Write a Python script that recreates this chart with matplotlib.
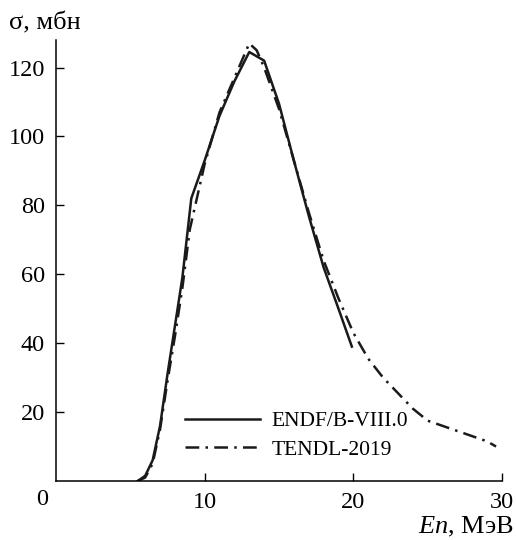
import matplotlib.pyplot as plt

plt.rcParams['font.family'] = ['Liberation Serif', 'DejaVu Serif']
plt.rcParams['mathtext.fontset'] = 'custom'
plt.rcParams['mathtext.it'] = 'Liberation Serif:italic'
plt.rcParams['mathtext.rm'] = 'Liberation Serif'

# данные
endf_x = [5.5, 6.0, 6.5, 7.0, 7.5, 8.0, 8.5, 9.1, 10, 11, 12, 13, 14, 15, 16, 17, 18, 19, 19.9]
endf_y = [0, 1.5, 6, 16, 31, 45, 59, 82, 93, 106, 116, 124.5, 122, 109.5, 93, 77, 62, 50, 39]

tendl_x = [5.5, 6.0, 6.5, 7.0, 7.5, 8.0, 8.5, 9.0, 10, 11, 12, 12.5, 13, 13.5, 14, 15, 16, 17,
           18, 19, 20, 21, 22, 23, 24, 25, 26, 27, 28, 29, 29.6]
tendl_y = [0, 1, 5, 15, 29, 42, 56, 73, 92, 107, 117, 122, 127, 125, 120, 108, 93, 78,
           64, 53, 43, 35.5, 30, 25.5, 21, 17.5, 16, 14.5, 13, 11.5, 10]

xticks = [10, 20, 30]
yticks = [20, 40, 60, 80, 100, 120]

fig = plt.figure(figsize=(5.16, 5.40), dpi=100)
ax = fig.add_axes([0.1085, 0.1093, 0.8644, 0.8167])

ax.plot(endf_x, endf_y, color='#1a1a1a', lw=1.8, label='ENDF/B-VIII.0')
ax.plot(tendl_x, tendl_y, color='#1a1a1a', lw=1.8, dashes=(5.5, 2.5, 1, 2.5), label='TENDL-2019')

ax.set_xlim(0, 30)
ax.set_ylim(0, 128)
ax.set_xticks(xticks)
ax.set_yticks(yticks)
ax.tick_params(direction='in', length=6, width=1, labelsize=17.5, pad=8)
for s in ['top', 'right']:
    ax.spines[s].set_visible(False)
for s in ['left', 'bottom']:
    ax.spines[s].set_linewidth(1.1)

# общий ноль в начале координат
ax.text(-0.031, -0.041, '0', transform=ax.transAxes, fontsize=17.5, ha='center', va='center')

fig.text(0.018, 0.956, 'σ, мбн', fontsize=19, ha='left', va='center')
fig.text(0.995, 0.024, r'$\mathit{En}$, МэВ', fontsize=19, ha='right', va='center')

ax.legend(loc='lower left', bbox_to_anchor=(0.246, 0.004), frameon=False, fontsize=15.5,
          handlelength=3.5, labelspacing=0.39, handletextpad=0.5)

plt.savefig('out.png', dpi=100)
